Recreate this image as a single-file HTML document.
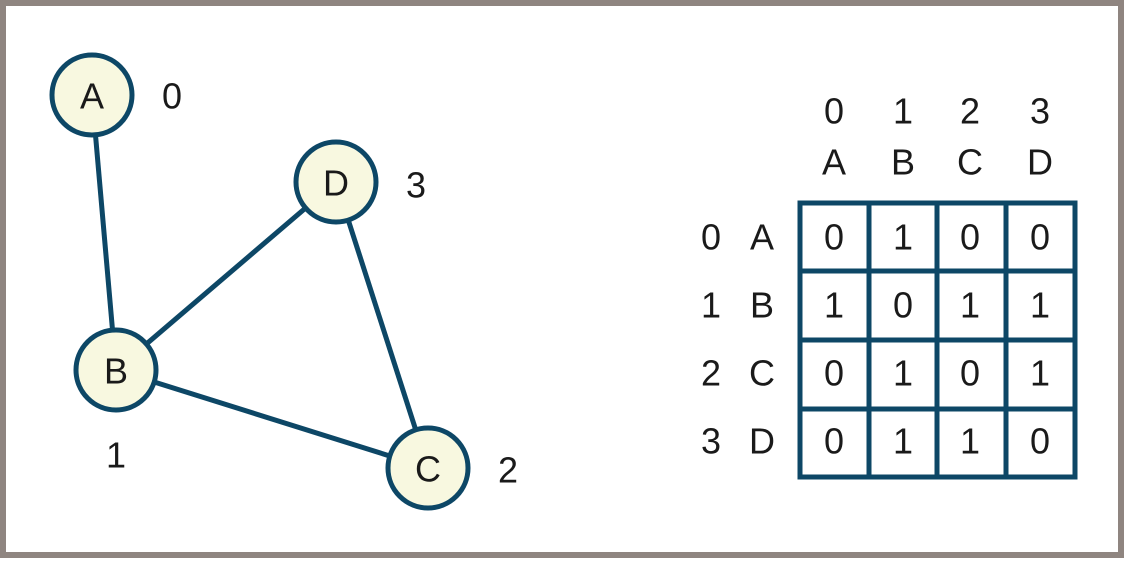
<!DOCTYPE html>
<html><head><style>body{margin:0;background:#fff}</style></head><body>
<svg width="1127" height="564" viewBox="0 0 1127 564" xmlns="http://www.w3.org/2000/svg" font-family="Liberation Sans, sans-serif" font-size="36" fill="#1a1a1a">
<rect x="3" y="3" width="1118" height="552" fill="#fff" stroke="#8f8580" stroke-width="6"/>
<g stroke="#0d4766" stroke-width="5">
<line x1="92" y1="95" x2="116" y2="370"/>
<line x1="116" y1="370" x2="336" y2="182"/>
<line x1="116" y1="370" x2="428" y2="468"/>
<line x1="336" y1="182" x2="428" y2="468"/>
<g fill="#f8f8e0">
<circle cx="92" cy="95" r="40"/>
<circle cx="336" cy="182" r="40"/>
<circle cx="116" cy="370" r="40"/>
<circle cx="428" cy="468" r="40"/>
</g>
</g>
<g text-anchor="middle" dominant-baseline="central">
<text x="92" y="96">A</text><text x="336" y="183">D</text><text x="116" y="371">B</text><text x="428" y="469">C</text>
<text x="172" y="96">0</text><text x="416" y="185">3</text><text x="116" y="455">1</text><text x="508" y="470">2</text>
<text x="834" y="111">0</text><text x="903" y="111">1</text><text x="970" y="111">2</text><text x="1040" y="111">3</text>
<text x="834" y="162">A</text><text x="903" y="162">B</text><text x="970" y="162">C</text><text x="1040" y="162">D</text>
<text x="711" y="237">0</text><text x="762" y="237">A</text>
<text x="711" y="305">1</text><text x="762" y="305">B</text>
<text x="711" y="373">2</text><text x="762" y="373">C</text>
<text x="711" y="441">3</text><text x="762" y="441">D</text>
<text x="834" y="237">0</text><text x="903" y="237">1</text><text x="970" y="237">0</text><text x="1040" y="237">0</text>
<text x="834" y="305">1</text><text x="903" y="305">0</text><text x="970" y="305">1</text><text x="1040" y="305">1</text>
<text x="834" y="373">0</text><text x="903" y="373">1</text><text x="970" y="373">0</text><text x="1040" y="373">1</text>
<text x="834" y="441">0</text><text x="903" y="441">1</text><text x="970" y="441">1</text><text x="1040" y="441">0</text>
</g>
<g stroke="#0d4766" stroke-width="5" fill="none">
<rect x="800" y="203" width="275" height="274"/>
<line x1="869" y1="203" x2="869" y2="477"/><line x1="937" y1="203" x2="937" y2="477"/><line x1="1006" y1="203" x2="1006" y2="477"/>
<line x1="800" y1="271" x2="1075" y2="271"/><line x1="800" y1="340" x2="1075" y2="340"/><line x1="800" y1="409" x2="1075" y2="409"/>
</g>
</svg>
</body></html>
